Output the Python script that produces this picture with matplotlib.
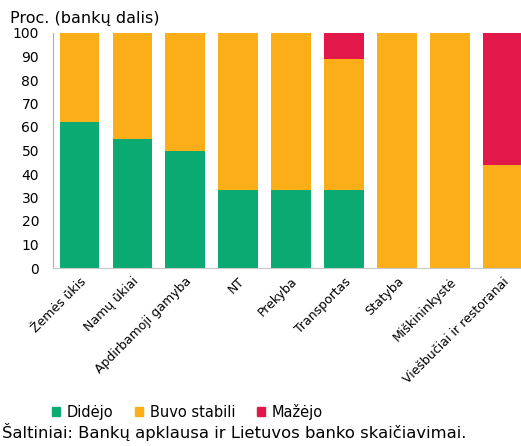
import matplotlib.pyplot as plt
import numpy as np
from matplotlib.patches import Patch

categories = ['Žemės ūkis', 'Namų ūkiai', 'Apdirbamoji gamyba', 'NT', 'Prekyba',
              'Transportas', 'Statyba', 'Miškininkystė', 'Viešbučiai ir restoranai']
didejo = [62, 55, 50, 33, 33, 33, 0, 0, 0]
stabili = [38, 45, 50, 67, 67, 56, 100, 100, 44]
mazejo = [0, 0, 0, 0, 0, 11, 0, 0, 56]

green = '#0BAA72'
orange = '#FBAE17'
red = '#E2174A'

plt.rcParams['font.family'] = 'DejaVu Sans'

fig = plt.figure(figsize=(5.21, 4.46), dpi=100)
ax = fig.add_axes([53 / 521, 1 - 268 / 446, 476 / 521, 235 / 446])

x = np.arange(len(categories))
w = 0.75
ax.bar(x, didejo, w, color=green)
ax.bar(x, stabili, w, bottom=didejo, color=orange)
ax.bar(x, mazejo, w, bottom=np.array(didejo) + np.array(stabili), color=red)

ax.set_xlim(-0.5, len(categories) - 0.5)
ax.set_ylim(0, 100)
ax.set_yticks(range(0, 101, 10))
ax.tick_params(axis='y', labelsize=10, length=0, pad=10)
ax.set_xticks(x)
ax.set_xticklabels(categories, rotation=45, ha='right', rotation_mode='anchor', fontsize=9)
ax.tick_params(axis='x', length=0, pad=5)
for s in ['top', 'right']:
    ax.spines[s].set_visible(False)
ax.spines['left'].set_color('#B0B0B0')
ax.spines['bottom'].set_color('#C8C8C8')

fig.text(10 / 521, 1 - 18 / 446, 'Proc. (bankų dalis)', fontsize=11.5, va='center')

handles = [Patch(color=green, label='Didėjo'), Patch(color=orange, label='Buvo stabili'),
           Patch(color=red, label='Mažėjo')]
fig.legend(handles=handles, loc='center left', bbox_to_anchor=(45 / 521, 1 - 412 / 446),
           ncol=3, frameon=False, fontsize=10.5, handlelength=0.55, handleheight=0.55,
           handletextpad=0.45, columnspacing=1.5, borderpad=0)
fig.text(2 / 521, 1 - 432 / 446, 'Šaltiniai: Bankų apklausa ir Lietuvos banko skaičiavimai.',
         fontsize=11.8, va='center')

fig.savefig('out.png', dpi=100)
